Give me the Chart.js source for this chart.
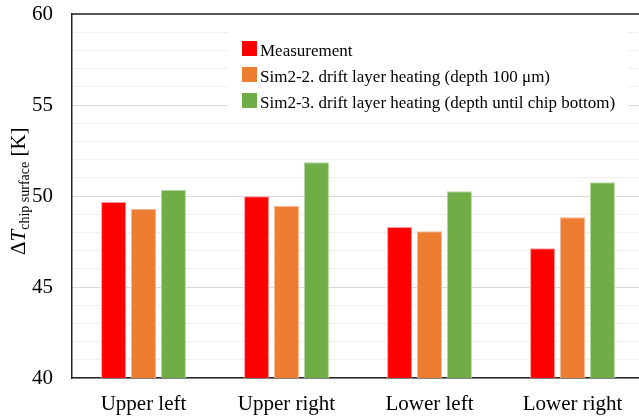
<!DOCTYPE html>
<html>
<head>
<meta charset="utf-8">
<script src="https://cdn.jsdelivr.net/npm/chart.js@4.4.1/dist/chart.umd.min.js"></script>
<style>
  html, body { margin: 0; padding: 0; background: #fff; overflow: hidden; }
  #wrap { width: 644px; height: 419px; }
</style>
</head>
<body>
<div id="wrap"><canvas id="chart"></canvas></div>
<script>
// données
const categories  = ['Upper left', 'Upper right', 'Lower left', 'Lower right'];
const measurement = [49.67, 49.98, 48.30, 47.13];
const sim22       = [49.29, 49.45, 48.07, 48.83];
const sim23       = [50.33, 51.85, 50.26, 50.75];
const seriesNames = [
  'Measurement',
  'Sim2-2. drift layer heating (depth 100 \u03BCm)',
  'Sim2-3. drift layer heating (depth until chip bottom)'
];
const seriesColors = ['#ff0000', '#ed7d31', '#70ad47'];
const edgeColors   = ['#ff9a9a', '#f6b994', '#b4d6a0'];
const yMin = 40, yMax = 60, yStep = 1, yLabelEvery = 5;

const SERIF = '"Liberation Serif", "Times New Roman", serif';

// légende + titre Y + cadre du haut, dessinés à la main
const decor = {
  id: 'decor',
  afterDraw(chart) {
    const { ctx, chartArea } = chart;
    ctx.save();

    // cadre du haut
    ctx.strokeStyle = '#262626';
    ctx.lineWidth = 1.5;
    ctx.beginPath();
    ctx.moveTo(chartArea.left, chartArea.top);
    ctx.lineTo(chartArea.right, chartArea.top);
    ctx.stroke();

    // légende (fond blanc qui masque la grille)
    ctx.fillStyle = '#fff';
    ctx.fillRect(228, 20, 400, 94);
    ctx.font = '17px ' + SERIF;
    ctx.textBaseline = 'alphabetic';
    seriesNames.forEach((name, i) => {
      const y = 41 + i * 26;
      ctx.fillStyle = seriesColors[i];
      ctx.fillRect(242, y, 15, 15);
      ctx.fillStyle = '#000';
      ctx.fillText(name, 260, y + 15);
    });

    // titre Y : ΔT_chip surface [K]
    ctx.translate(25, 255);
    ctx.rotate(-Math.PI / 2);
    ctx.fillStyle = '#000';
    let x = 0;
    ctx.font = '21px ' + SERIF;
    ctx.fillText('\u0394', x, 0);
    x += ctx.measureText('\u0394').width;
    ctx.font = 'italic 21px ' + SERIF;
    ctx.fillText('T', x, 0);
    x += ctx.measureText('T').width;
    ctx.font = '14px ' + SERIF;
    ctx.fillText('chip surface', x, 4);
    x += ctx.measureText('chip surface').width;
    ctx.font = '21px ' + SERIF;
    ctx.fillText(' [K]', x, 0);

    ctx.restore();
  }
};

new Chart(document.getElementById('chart'), {
  type: 'bar',
  data: {
    labels: categories,
    datasets: [measurement, sim22, sim23].map((d, i) => ({
      label: seriesNames[i],
      data: d,
      backgroundColor: seriesColors[i],
      borderColor: edgeColors[i],
      borderWidth: 1,
      borderSkipped: 'bottom',
      categoryPercentage: 0.627,
      barPercentage: 0.84
    }))
  },
  options: {
    responsive: true,
    maintainAspectRatio: false,
    animation: false,
    layout: { padding: { top: 14, right: 0, left: 0, bottom: 0 } },
    plugins: { legend: { display: false }, tooltip: { enabled: false } },
    scales: {
      x: {
        grid: { display: false, drawTicks: false },
        border: { display: true, color: '#262626', width: 1.5 },
        ticks: { color: '#000', font: { family: SERIF, size: 21 }, padding: 14, maxRotation: 0 },
        afterFit(s) { s.height = 41; s.paddingLeft = 0; s.paddingRight = 0; }
      },
      y: {
        min: yMin,
        max: yMax,
        grid: {
          drawTicks: false,
          color: c => (c.tick.value % yLabelEvery === 0 ? '#d9d9d9' : '#efefef'),
          lineWidth: 1
        },
        border: { display: true, color: '#262626', width: 1.5 },
        ticks: {
          stepSize: yStep,
          autoSkip: false,
          padding: 19,
          color: '#000',
          font: { family: SERIF, size: 21 },
          callback: v => (v % yLabelEvery === 0 ? v : '')
        },
        afterFit(s) { s.width = 72; s.paddingTop = 0; s.paddingBottom = 0; }
      }
    }
  },
  plugins: [decor]
});
</script>
</body>
</html>
